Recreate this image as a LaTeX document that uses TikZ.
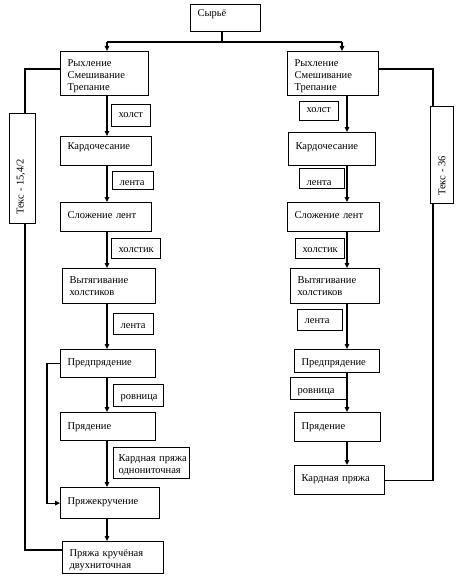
\documentclass[tikz,border=0pt]{standalone}
\usepackage{fontspec}
\setmainfont{Liberation Serif}
\usetikzlibrary{arrows.meta}
\begin{document}
\begin{tikzpicture}[x=1pt,y=-1pt,
  box/.style={draw, line width=1.2pt, anchor=north west, inner xsep=7pt, inner ysep=0pt,
    align=left, font=\fontsize{10.5}{12}\selectfont},
  bx/.style n args={3}{box, text width=#1, text height=#2, text depth=#3},
  plainbox/.style={draw, line width=1.2pt, anchor=north west, inner sep=0pt},
  vtext/.style={rotate=90, inner sep=0pt, font=\fontsize{10.5}{12}\selectfont},
  line/.style={line width=1.1pt},
  arr/.style={line width=1.1pt, -{Triangle[length=5pt,width=4.5pt]}}]
\useasboundingbox (0,0) rectangle (462,578);

% top
\node[bx={56pt}{12pt}{15pt}] (S) at (190,4) {Сырьё};

% left column
\node[bx={74pt}{14.5pt}{29.5pt}] (L1) at (60,51) {Рыхление\\Смешивание\\Трепание};
\node[bx={25pt}{12.5pt}{9.5pt}]  (l1) at (111,104) {холст};
\node[bx={77pt}{12.5pt}{16.5pt}] (L2) at (60,136) {Кардочесание};
\node[bx={27pt}{14pt}{4pt}]      (l2) at (112,171) {лента};
\node[bx={77pt}{15.5pt}{13.5pt}] (L3) at (60,202) {Сложение лент};
\node[bx={35pt}{13.5pt}{6.5pt}]  (l3) at (111,238) {холстик};
\node[bx={79pt}{15pt}{20pt}]     (L4) at (62,268) {Вытягивание\\холстиков};
\node[bx={26pt}{14.5pt}{6.5pt}]  (l4) at (113,313) {лента};
\node[bx={81pt}{16pt}{12pt}]     (L5) at (60,349) {Предпрядение};
\node[bx={36pt}{14.5pt}{7.5pt}]  (l5) at (113,384) {ровница};
\node[bx={66pt}{14pt}{17pt}, inner xsep=5pt] (l6) at (113,447) {Кардная~пряжа\\однониточная};
\node[bx={81pt}{16.5pt}{11.5pt}] (L6) at (60,412) {Прядение};
\node[bx={85pt}{16.5pt}{14.5pt}] (L7) at (60,487) {Пряжекручение};
\node[bx={87pt}{15pt}{17pt}]     (L8) at (62,541) {Пряжа кручёная\\двухниточная};

% right column
\node[bx={77pt}{14.5pt}{29.5pt}] (R1) at (287,51) {Рыхление\\Смешивание\\Трепание};
\node[bx={25pt}{11pt}{8pt}]      (r1) at (299,101) {холст};
\node[bx={73pt}{16.5pt}{16.5pt}] (R2) at (288,132) {Кардочесание};
\node[bx={31pt}{17pt}{3pt}]      (r2) at (299,168) {лента};
\node[bx={78pt}{15.5pt}{13.5pt}] (R3) at (287,202) {Сложение лент};
\node[bx={35pt}{13.5pt}{6.5pt}]  (r3) at (295,238) {холстик};
\node[bx={75pt}{15pt}{20pt}]     (R4) at (290,268) {Вытягивание\\холстиков};
\node[bx={31pt}{13.8pt}{7.2pt}]  (r4) at (297,309) {лента};
\node[bx={71pt}{15.5pt}{7.5pt}]  (R5) at (294,349) {Предпрядение};
\node[bx={42pt}{15.8pt}{6.2pt}]  (r5) at (290,377) {ровница};
\node[bx={72pt}{16.5pt}{12.5pt}] (R6) at (294,412) {Прядение};
\node[bx={76pt}{16pt}{13pt}]     (R7) at (294,465) {Кардная пряжа};

% Tex boxes
\node[plainbox, minimum width=26pt, minimum height=110pt] (TL) at (9,113) {};
\node[vtext] (TLt) at (21,187) {Текс - 15,4/2};
\node[plainbox, minimum width=23pt, minimum height=97pt] (TR) at (430,106) {};
\node[vtext] (TRt) at (442,176) {Текс - 36};

% coordinates
\coordinate (top) at (222,42);
\coordinate (xL) at (107,42);
\coordinate (xR) at (342,42);
\coordinate (cL) at (107,0);
\coordinate (cR) at (347,0);
\coordinate (tl) at (25,69);
\coordinate (tlb) at (25,550);
\coordinate (tr) at (433,69);
\coordinate (fb) at (47,0);

% top distribution
\draw[line] (S.south -| top) -- (top);
\draw[line] (xL) -- (xR);
\draw[arr] (xL) -- (L1.north -| xL);
\draw[arr] (xR) -- (R1.north -| xR);

% left column arrows
\draw[arr] (L1.south -| cL) -- (L2.north -| cL);
\draw[arr] (L2.south -| cL) -- (L3.north -| cL);
\draw[arr] (L3.south -| cL) -- (L4.north -| cL);
\draw[arr] (L4.south -| cL) -- (L5.north -| cL);
\draw[arr] (L5.south -| cL) -- (L6.north -| cL);
\draw[arr] (L6.south -| cL) -- (L7.north -| cL);
\draw[arr] (L7.south -| cL) -- (L8.north -| cL);

% right column arrows
\draw[arr] (R1.south -| cR) -- (R2.north -| cR);
\draw[arr] (R2.south -| cR) -- (R3.north -| cR);
\draw[arr] (R3.south -| cR) -- (R4.north -| cR);
\draw[arr] (R4.south -| cR) -- (R5.north -| cR);
\draw[arr] (R5.south -| cR) -- (R6.north -| cR);
\draw[arr] (R6.south -| cR) -- (R7.north -| cR);

% feedback left
\draw[arr] (L5.west) -- (L5.west -| fb) |- (L7.west);

% Tex connections
\draw[line] (L1.west |- tl) -| (TL.north -| tl);
\draw[line] (TL.south -| tl) -- (tlb) -- (L8.west |- tlb);
\draw[line] (R1.east |- tr) -| (TR.north -| tr);
\draw[line] (R7.east) -| (TR.south -| tr);
\end{tikzpicture}
\end{document}
